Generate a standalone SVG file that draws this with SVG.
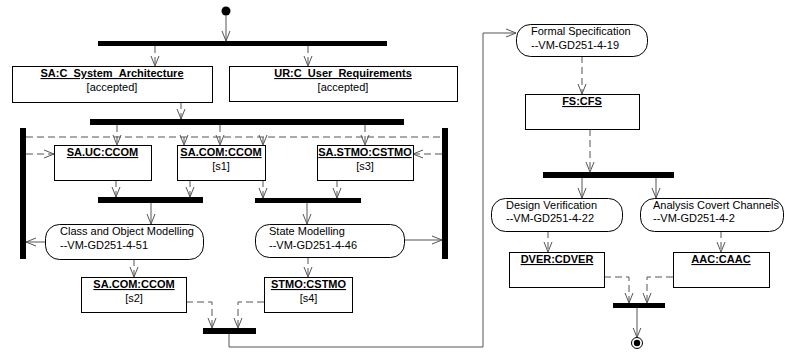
<svg xmlns="http://www.w3.org/2000/svg" width="785" height="354" viewBox="0 0 785 354">
<defs>
<style>
text{font-family:"Liberation Sans",Arial,sans-serif;font-size:11px;fill:#000}
.t{font-weight:bold;text-decoration:underline;text-anchor:middle}
.c{text-anchor:middle}
.box{fill:#fff;stroke:#000;stroke-width:1}
.bar{fill:#000}
.s{fill:none;stroke:#555;stroke-width:1}
.d{fill:none;stroke:#555;stroke-width:1;stroke-dasharray:7,4}
.a{marker-end:url(#arr)}
</style>
<marker id="arr" viewBox="0 0 10 10" refX="10" refY="5" markerWidth="10" markerHeight="10" markerUnits="userSpaceOnUse" orient="auto">
<path d="M0,1 L10,5 L0,9" fill="none" stroke="#555" stroke-width="1"/>
</marker>
</defs>
<rect width="785" height="354" fill="#fff"/>

<g id="connectors">
<line class="s a" x1="226" y1="15.5" x2="226" y2="41"/>
<line class="d a" x1="155" y1="46" x2="155" y2="66"/>
<line class="d a" x1="308" y1="46" x2="308" y2="66"/>
<line class="d a" x1="181" y1="102" x2="181" y2="119"/>
<line class="d" x1="26" y1="137" x2="442" y2="137"/>
<line class="d a" x1="117" y1="125" x2="117" y2="145"/>
<line class="d a" x1="220" y1="125" x2="220" y2="145"/>
<line class="d a" x1="365" y1="125" x2="365" y2="145"/>
<line class="d a" x1="184" y1="137" x2="184" y2="145"/>
<line class="d a" x1="263" y1="137" x2="263" y2="145"/>
<line class="d a" x1="26" y1="154" x2="54" y2="154"/>
<line class="d a" x1="442" y1="154" x2="413" y2="154"/>
<line class="d a" x1="116" y1="180" x2="116" y2="197"/>
<line class="d a" x1="190" y1="180" x2="190" y2="197"/>
<line class="d a" x1="263" y1="180" x2="263" y2="198"/>
<line class="d a" x1="337" y1="180" x2="337" y2="198"/>
<line class="s a" x1="151" y1="203" x2="151" y2="224"/>
<line class="s a" x1="307" y1="203" x2="307" y2="224"/>
<line class="s a" x1="45" y1="242" x2="26" y2="242"/>
<line class="s a" x1="404" y1="240" x2="442" y2="240"/>
<line class="d a" x1="134" y1="259" x2="134" y2="277"/>
<line class="d a" x1="308" y1="257" x2="308" y2="277"/>
<path class="d a" d="M186,302 H212 V328"/>
<path class="d a" d="M264,302 H238 V328"/>
<path class="s a" d="M229,334 V347 H483 V33 H516"/>
<line class="d a" x1="582" y1="56" x2="582" y2="94"/>
<line class="d a" x1="590" y1="129" x2="590" y2="172"/>
<line class="s a" x1="582" y1="178" x2="582" y2="198"/>
<line class="s a" x1="656" y1="178" x2="656" y2="198"/>
<line class="d a" x1="548" y1="231" x2="548" y2="252"/>
<line class="d a" x1="721" y1="231" x2="721" y2="252"/>
<path class="d a" d="M604,277 H629 V303"/>
<path class="d a" d="M673,277 H647 V303"/>
<line class="s a" x1="637" y1="308" x2="637" y2="337.5"/>
</g>

<g id="start"><circle cx="226" cy="11" r="4.5" fill="#000"/></g>
<g id="bar1"><rect class="bar" x="98" y="41" width="289" height="5"/></g>
<g id="bar2"><rect class="bar" x="90" y="119" width="314" height="6"/></g>
<g id="barLeft"><rect class="bar" x="20" y="128" width="6" height="131"/></g>
<g id="barRight"><rect class="bar" x="442" y="128" width="6" height="131"/></g>
<g id="bar3"><rect class="bar" x="98" y="197" width="105" height="6"/></g>
<g id="bar4"><rect class="bar" x="255" y="198" width="106" height="5"/></g>
<g id="bar5"><rect class="bar" x="203" y="328" width="53" height="6"/></g>
<g id="bar6"><rect class="bar" x="543" y="172" width="131" height="6"/></g>
<g id="bar7"><rect class="bar" x="613" y="303" width="52" height="5"/></g>

<g id="sa_arch"><rect class="box" x="12.5" y="66.5" width="200" height="36"/>
<text class="t" x="112" y="77">SA:C_System_Architecture</text><text class="c" x="112" y="91">[accepted]</text></g>
<g id="ur_req"><rect class="box" x="229.5" y="66.5" width="228" height="35"/>
<text class="t" x="343" y="77">UR:C_User_Requirements</text><text class="c" x="343" y="91">[accepted]</text></g>
<g id="sa_uc"><rect class="box" x="54.5" y="145.5" width="97" height="35"/>
<text class="t" x="102.5" y="156">SA.UC:CCOM</text></g>
<g id="sa_com_s1"><rect class="box" x="177.5" y="145.5" width="88" height="35"/>
<text class="t" x="221" y="156">SA.COM:CCOM</text><text class="c" x="221" y="170">[s1]</text></g>
<g id="sa_stmo_s3"><rect class="box" x="317.5" y="145.5" width="96" height="35"/>
<text class="t" x="365" y="156">SA.STMO:CSTMO</text><text class="c" x="365" y="170">[s3]</text></g>
<g id="class_obj"><rect class="box" x="45.5" y="224.5" width="158" height="35" rx="14"/>
<text x="60" y="235">Class and Object Modelling</text><text x="60" y="249">--VM-GD251-4-51</text></g>
<g id="state_mod"><rect class="box" x="255.5" y="224.5" width="149" height="33" rx="14"/>
<text x="269" y="235">State Modelling</text><text x="269" y="249">--VM-GD251-4-46</text></g>
<g id="sa_com_s2"><rect class="box" x="81.5" y="277.5" width="105" height="35"/>
<text class="t" x="134" y="288">SA.COM:CCOM</text><text class="c" x="134" y="302">[s2]</text></g>
<g id="stmo_s4"><rect class="box" x="264.5" y="277.5" width="88" height="35"/>
<text class="t" x="308.5" y="288">STMO:CSTMO</text><text class="c" x="308.5" y="302">[s4]</text></g>
<g id="formal_spec"><rect class="box" x="516.5" y="24.5" width="131" height="32" rx="14"/>
<text x="531" y="35">Formal Specification</text><text x="531" y="49">--VM-GD251-4-19</text></g>
<g id="fs_cfs"><rect class="box" x="525.5" y="94.5" width="114" height="35"/>
<text class="t" x="582" y="105">FS:CFS</text></g>
<g id="design_ver"><rect class="box" x="491.5" y="198.5" width="131" height="33" rx="14"/>
<text x="506" y="209">Design Verification</text><text x="506" y="222">--VM-GD251-4-22</text></g>
<g id="analysis_cc"><rect class="box" x="640.5" y="198.5" width="143" height="33" rx="14"/>
<text x="653" y="209">Analysis Covert Channels</text><text x="653" y="222">--VM-GD251-4-2</text></g>
<g id="dver"><rect class="box" x="509.5" y="252.5" width="95" height="35"/>
<text class="t" x="557" y="263">DVER:CDVER</text></g>
<g id="aac"><rect class="box" x="673.5" y="252.5" width="96" height="35"/>
<text class="t" x="721" y="263">AAC:CAAC</text></g>
<g id="final"><circle cx="637" cy="343" r="5.5" fill="#fff" stroke="#000"/><circle cx="637" cy="343" r="3.2" fill="#000"/></g>
</svg>
